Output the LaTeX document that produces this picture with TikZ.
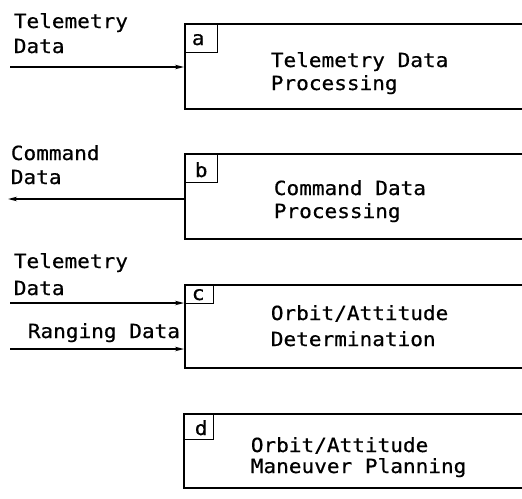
\documentclass[tikz,border=0pt]{standalone}
\usepackage{fontspec}
\setmonofont[FakeStretch=1.08,FakeBold=0.6]{DejaVu Sans Mono}
\usetikzlibrary{arrows.meta}
\begin{document}
\begin{tikzpicture}[x=1pt,y=-1pt,
  line width=1.7pt,
  txt/.style={inner sep=0pt,anchor=base west,align=left,
    font=\ttfamily\fontsize{19.5}{23}\selectfont},
  procbox/.style={draw,rectangle,inner sep=0pt,anchor=north west},
  tagbox/.style={draw,rectangle,inner sep=0pt,anchor=north west,line width=1.4pt},
  flow/.style={line width=1.4pt,-{Stealth[length=9pt,width=4.5pt]}}]
\useasboundingbox (0,0) rectangle (522,498);

% process boxes (right side runs off the page)
\node[procbox,minimum width=345pt,minimum height=85pt] (a) at (184,23) {};
\node[procbox,minimum width=345pt,minimum height=85pt] (b) at (184,153) {};
\node[procbox,minimum width=345pt,minimum height=83pt] (c) at (184,284) {};
\node[procbox,minimum width=346pt,minimum height=74pt] (d) at (183,413) {};

% corner tags
\node[tagbox,minimum width=33pt,minimum height=29pt] (ta) at (a.north west) {};
\node[tagbox,minimum width=33pt,minimum height=29pt] (tb) at (b.north west) {};
\node[tagbox,minimum width=29pt,minimum height=19pt] (tc) at (c.north west) {};
\node[tagbox,minimum width=30pt,minimum height=26pt] (td) at (d.north west) {};
\node[txt] (la) at (191,45) {a};
\node[txt] (lb) at (194,177) {b};
\node[txt] (lc) at (191,300) {c};
\node[txt] (ld) at (194,435) {d};

% box titles (placed by the baseline of their last line)
\node[txt] (na) at (270,90) {Telemetry Data\\Processing};
\node[txt] (nb) at (273,218) {Command Data\\Processing};
\node[txt] (nc) at (270,346) {Orbit/Attitude\\[3pt]Determination};
\node[txt] (nd) at (250,473) {Orbit/Attitude\\[-2pt]Maneuver Planning};

% flow labels
\node[txt] (ina) at (13,53) {Telemetry\\[2pt]Data};
\node[txt] (outb) at (10,184) {Command\\[1pt]Data};
\node[txt] (inc) at (13,295) {Telemetry\\[4pt]Data};
\node[txt] (rng) at (27,338) {Ranging Data};

% flows
\coordinate (sa) at (10,67);
\coordinate (eb) at (8,199);
\coordinate (sc1) at (10,303);
\coordinate (sc2) at (10,349);
\draw[flow] (sa) -- (sa -| a.west);
\draw[flow] (eb -| b.west) -- (eb);
\draw[flow] (sc1) -- (sc1 -| c.west);
\draw[flow] (sc2) -- (sc2 -| c.west);
\end{tikzpicture}
\end{document}
